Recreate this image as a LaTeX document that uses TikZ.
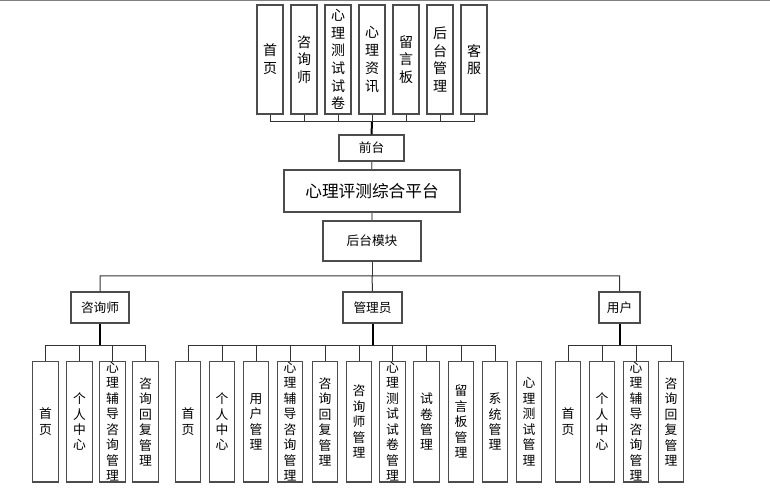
\documentclass[tikz,border=0pt]{standalone}
\usepackage{fontspec}
\setmainfont{Noto Sans CJK SC}
\begin{document}
\begin{tikzpicture}[x=0.75pt,y=-0.75pt,
  box/.style={draw=black!70,line width=0.9pt,fill=white,inner sep=0pt},
  topbox/.style={box,minimum width=19.5pt,minimum height=81.75pt},
  subbox/.style={box,minimum width=19.1pt,minimum height=90.4pt},
  toptxt/.style={align=center,inner sep=0pt,font=\fontsize{10.5}{13.3}\selectfont},
  subtxt/.style={align=center,inner sep=0pt,font=\fontsize{9.6}{11.6}\selectfont},
  label/.style={box,font=\fontsize{9.5}{11}\selectfont},
  wire/.style={black!80,line width=0.75pt},
  stem/.style={black,line width=1.5pt}]
\useasboundingbox (0,0) rectangle (770,498);
\draw[gray,line width=1pt] (0,0.7)--(770,0.7);
% front end
\foreach \i/\t in {0/{首\\页},1/{咨\\询\\师},2/{心\\理\\测\\试\\试\\卷},3/{心\\理\\资\\讯},4/{留\\言\\板},5/{后\\台\\管\\理},6/{客\\服}}{
  \node[topbox] (t\i) at (270+34*\i,59.5) {};
  \node[toptxt] at (t\i) {\t};
}
\node[label,minimum width=48.75pt,minimum height=19.5pt] (front) at (371.5,148) {前台};
\node[box,minimum width=132pt,minimum height=31.5pt,font=\fontsize{12.5}{14}\selectfont] (main) at (372,191) {心理评测综合平台};
\node[label,minimum width=73.5pt,minimum height=30pt] (back) at (372,241) {后台模块};
\coordinate (tbus) at (372,122);
\foreach \i in {0,...,6} \draw[wire] (t\i.south) |- (tbus);
\draw[stem] (tbus) -- (front.north);
\draw[black!55,line width=0.9pt] (front) -- (main) (main) -- (back);
% back end
\node[label,minimum width=43.5pt,minimum height=23.25pt] (zxs) at (100,307.5) {咨询师};
\node[label,minimum width=44.25pt,minimum height=23.25pt] (gly) at (372.5,307.5) {管理员};
\node[label,minimum width=30.75pt,minimum height=23.25pt] (yh) at (619.5,307.5) {用户};
\coordinate (mbus) at (372,276);
\draw[wire] (back) -- (mbus);
\draw[wire] (mbus) -| (zxs.north) (mbus) -| (yh.north) (mbus) -- (gly.north);
\coordinate (bz) at (100,346);
\coordinate (bg) at (372.5,346);
\coordinate (by) at (619.5,346);
\draw[stem] (zxs) -- (bz) (gly) -- (bg) (yh) -- (by);
\foreach \x/\t [count=\i] in {45.5/{首\\页},79.5/{个\\人\\中\\心},112.5/{心\\理\\辅\\导\\咨\\询\\管\\理},145.5/{咨\\询\\回\\复\\管\\理}}{
  \node[subbox] (z\i) at (\x,421.75) {};
  \node[subtxt] at (z\i) {\t};
  \draw[wire] (bz) -| (z\i.north);
}
\foreach \x/\t [count=\i] in {188/{首\\页},222/{个\\人\\中\\心},256/{用\\户\\管\\理},290/{心\\理\\辅\\导\\咨\\询\\管\\理},325/{咨\\询\\回\\复\\管\\理},359/{咨\\询\\师\\管\\理},392.5/{心\\理\\测\\试\\试\\卷\\管\\理},426.5/{试\\卷\\管\\理},461/{留\\言\\板\\管\\理},495/{系\\统\\管\\理}}{
  \node[subbox] (g\i) at (\x,421.75) {};
  \node[subtxt] at (g\i) {\t};
  \draw[wire] (bg) -| (g\i.north);
}
\node[subbox] (g11) at (529,421.75) {};
\node[subtxt] at (g11) {心\\理\\测\\试\\管\\理};
\foreach \x/\t [count=\i] in {568/{首\\页},602/{个\\人\\中\\心},636/{心\\理\\辅\\导\\咨\\询\\管\\理},671/{咨\\询\\回\\复\\管\\理}}{
  \node[subbox] (y\i) at (\x,421.75) {};
  \node[subtxt] at (y\i) {\t};
  \draw[wire] (by) -| (y\i.north);
}
\end{tikzpicture}
\end{document}
